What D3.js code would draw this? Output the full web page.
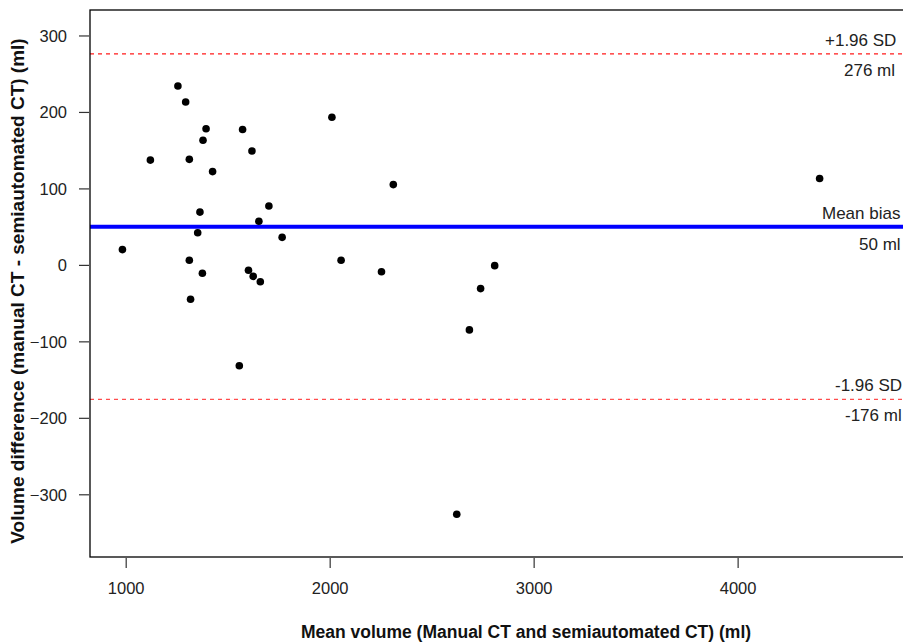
<!DOCTYPE html>
<html>
<head>
<meta charset="utf-8">
<script src="https://cdn.jsdelivr.net/npm/d3@7"></script>
<style>
    body { margin: 0; background: white; }
    svg { display: block; font-family: "Liberation Sans", Arial, Helvetica, sans-serif; }
</style>
</head>
<body>
<svg id="baSvg" width="903" height="643"></svg>
<script>
// Bland-Altman plot: manual CT vs semiautomated CT volumes

const meanVolume = [1256, 1294, 1394, 1573, 1379, 1619, 1121, 1312, 1426, 2011, 1702, 1364, 1653, 1353, 1767, 984,
    1312, 2056, 1376, 1602, 1625, 1660, 1318, 2312, 2254, 2809, 2740, 2685, 2623, 1557, 4402]
const volumeDiff = [234, 213, 178, 177, 163, 149, 137, 138, 122, 193, 77, 69, 57, 42, 36, 20,
    6, 6, -11, -7, -15, -22, -45, 105, -9, -1, -31, -85, -326, -132, 113]

const limitValues = [276, 50, -176]
const limitNames = ['+1.96 SD', 'Mean bias', '-1.96 SD']
const limitLabels = ['276 ml', '50 ml', '-176 ml']

const xTicks = [1000, 2000, 3000, 4000]
const yTicks = [300, 200, 100, 0, -100, -200, -300]

const svg = d3.select('#baSvg')

const plotLeft = 90, plotRight = 962, plotTop = 10, plotBottom = 557

const xScale = d3.scaleLinear().domain([825, 5100]).range([plotLeft, plotRight])
const yScale = d3.scaleLinear().domain([-382, 333.3]).range([plotBottom, plotTop])

// axes (ticks only, the box is drawn separately)
const xAxis = svg.append('g').attr('transform', `translate(0,${plotBottom + 1})`)
    .call(d3.axisBottom(xScale).tickValues(xTicks).tickSize(10).tickPadding(14).tickFormat(d3.format('d')))
const yAxis = svg.append('g').attr('transform', `translate(${plotLeft - 1},0)`)
    .call(d3.axisLeft(yScale).tickValues(yTicks).tickSize(10).tickPadding(12).tickFormat(d => d < 0 ? '\u2212' + Math.abs(d) : d))

svg.selectAll('.domain').remove()
svg.selectAll('.tick line').style('stroke', '#333').style('stroke-width', 1.2)
svg.selectAll('.tick text').style('font-size', '16.5px').style('fill', '#222')
xAxis.attr('font-family', null)
yAxis.attr('font-family', null)
yAxis.selectAll('.tick text').attr('dy', '0.35em')
xAxis.selectAll('.tick text').attr('dy', '0.71em')

// limits of agreement and mean bias
const lineStyle = [
    { stroke: '#ff1a1a', width: 1.2, dash: '4,4' },
    { stroke: '#0000ff', width: 4, dash: null },
    { stroke: '#ff4d4d', width: 1.2, dash: '4,4' }
]
svg.selectAll('.limitLine').data(limitValues).enter().append('line')
    .attr('class', 'limitLine')
    .attr('x1', plotLeft).attr('x2', plotRight)
    .attr('y1', d => yScale(d)).attr('y2', d => yScale(d))
    .style('stroke', (d, i) => lineStyle[i].stroke)
    .style('stroke-width', (d, i) => lineStyle[i].width)
    .style('stroke-dasharray', (d, i) => lineStyle[i].dash)

// label positions: left edge of text, offset above / below the line
const nameX = [825, 822, 835]
const labelX = [844, 859, 845]
svg.selectAll('.limitName').data(limitValues).enter().append('text')
    .attr('class', 'limitName')
    .attr('x', (d, i) => nameX[i]).attr('y', d => yScale(d) - 14)
    .attr('dy', '0.35em')
    .style('font-size', '17px').style('fill', '#222')
    .text((d, i) => limitNames[i])
svg.selectAll('.limitLabel').data(limitValues).enter().append('text')
    .attr('class', 'limitLabel')
    .attr('x', (d, i) => labelX[i]).attr('y', (d, i) => yScale(d) + (i == 1 ? 17 : 16))
    .attr('dy', '0.35em')
    .style('font-size', '17px').style('fill', '#222')
    .text((d, i) => limitLabels[i])

// points
svg.selectAll('.point').data(meanVolume).enter().append('circle')
    .attr('class', 'point')
    .attr('cx', d => xScale(d)).attr('cy', (d, i) => yScale(volumeDiff[i]))
    .attr('r', 3.8).style('fill', 'black')

// plot box
svg.append('rect')
    .attr('x', plotLeft).attr('y', plotTop).attr('width', plotRight - plotLeft).attr('height', plotBottom - plotTop)
    .style('fill', 'none').style('stroke', 'black').style('stroke-width', 1.3)

// axis titles
svg.append('text')
    .attr('x', (plotLeft + plotRight) / 2).attr('y', 638)
    .attr('text-anchor', 'middle')
    .style('font-size', '17.5px').style('font-weight', 'bold').style('fill', '#111')
    .text('Mean volume (Manual CT and semiautomated CT) (ml)')
svg.append('text')
    .attr('transform', 'translate(24,291) rotate(-90)')
    .attr('text-anchor', 'middle')
    .style('font-size', '19px').style('font-weight', 'bold').style('fill', '#111')
    .text('Volume difference (manual CT - semiautomated CT) (ml)')
</script>
</body>
</html>
